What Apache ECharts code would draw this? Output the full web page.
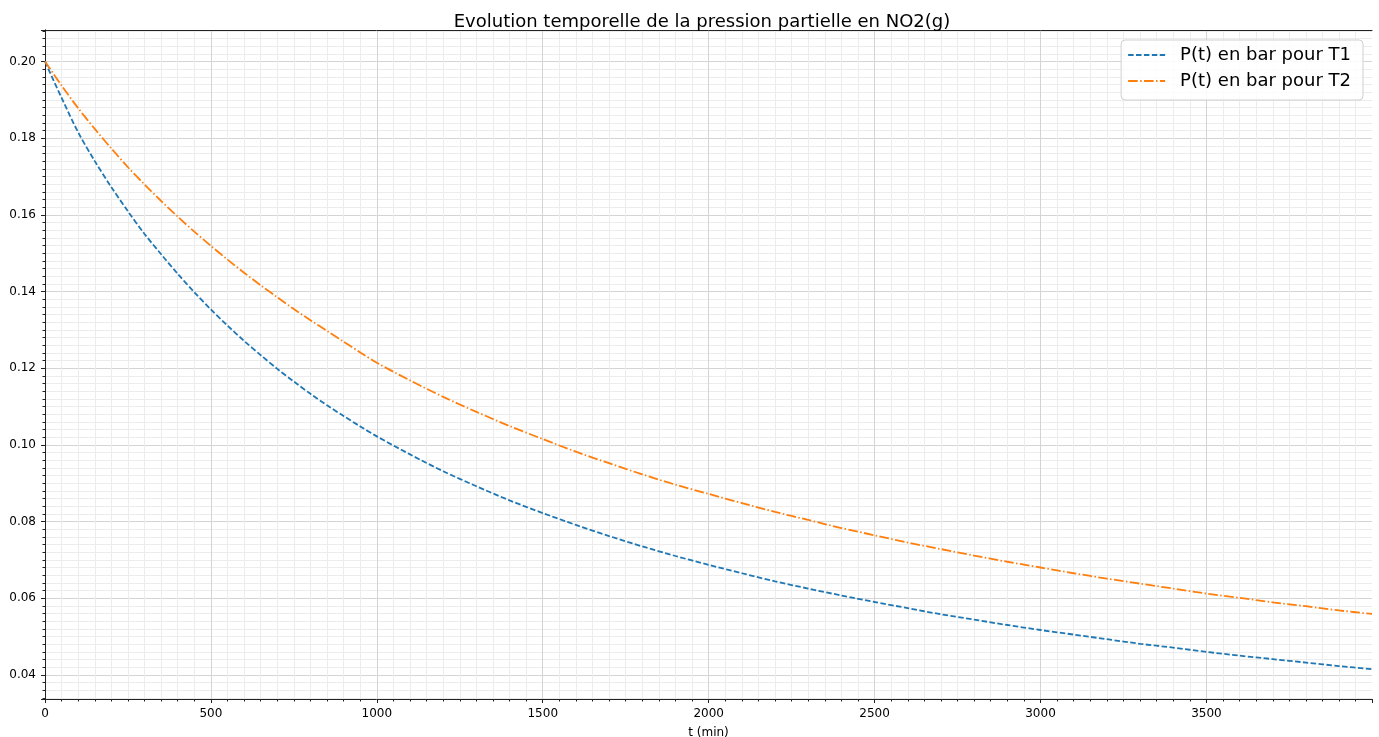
<!DOCTYPE html>
<html>
<head>
<meta charset="utf-8">
<script src="https://cdn.jsdelivr.net/npm/echarts@6/dist/echarts.min.js"></script>
<style>
  html, body { margin: 0; padding: 0; background: #fff; }
  #chart { width: 1379px; height: 737px; }
</style>
</head>
<body>
<div id="chart"></div>
<script>
// temps (min)
const tMin = [0, 50, 100, 150, 200, 250, 300, 350, 400, 450, 500, 550, 600, 650, 700, 750, 800, 850, 900, 950,
  1000, 1100, 1200, 1300, 1400, 1500, 1600, 1700, 1800, 1900, 2000, 2100, 2200, 2300, 2400, 2500,
  2600, 2700, 2800, 2900, 3000, 3100, 3200, 3300, 3400, 3500, 3600, 3700, 3800, 3900, 3999]

// P(t) en bar pour T1
const pT1 = [0.2000, 0.1905, 0.1815, 0.1740, 0.1672, 0.1609, 0.1550, 0.1497, 0.1446, 0.1398, 0.1353, 0.1311,
  0.1271, 0.1234, 0.1198, 0.1165, 0.1133, 0.1103, 0.1075, 0.1048,
  0.1022, 0.0975, 0.0931, 0.0892, 0.0855, 0.0822, 0.0791, 0.0762, 0.0735, 0.0710, 0.0687, 0.0665, 0.0644,
  0.0625, 0.0607, 0.0590, 0.0574, 0.0558, 0.0544, 0.0530, 0.0517, 0.0505, 0.0493, 0.0481, 0.0471, 0.0460,
  0.0450, 0.0441, 0.0432, 0.0423, 0.0415]

// P(t) en bar pour T2
const pT2 = [0.2000, 0.1937, 0.1878, 0.1824, 0.1773, 0.1724, 0.1679, 0.1636, 0.1595, 0.1556, 0.1519, 0.1483,
  0.1449, 0.1416, 0.1385, 0.1354, 0.1325, 0.1297, 0.1269, 0.1241,
  0.1214, 0.1168, 0.1125, 0.1086, 0.1049, 0.1015, 0.0982, 0.0952, 0.0923, 0.0896, 0.0872, 0.0848, 0.0825,
  0.0804, 0.0783, 0.0764, 0.0745, 0.0728, 0.0711, 0.0695, 0.0680, 0.0665, 0.0651, 0.0638, 0.0625, 0.0612,
  0.0601, 0.0589, 0.0579, 0.0568, 0.0559]

const seriesNames = ['P(t) en bar pour T1', 'P(t) en bar pour T2']
const font = 'DejaVu Sans'
const tRange = [0, 3999]
const pRange = [0.0337, 0.2082]

// axes du cadre (haut / droite), juste la ligne
const frameAxis = {
  type: 'value',
  axisLine: { show: true, lineStyle: { color: '#222', width: 1 } },
  axisTick: { show: false },
  minorTick: { show: false },
  axisLabel: { show: false },
  splitLine: { show: false },
  minorSplitLine: { show: false }
}

var myChart = echarts.init(document.getElementById('chart'))
myChart.setOption({
  backgroundColor: '#fff',
  animation: false,
  title: {
    text: 'Evolution temporelle de la pression partielle en NO2(g)',
    left: 697,
    textAlign: 'center',
    top: 8,
    textStyle: { fontFamily: font, fontSize: 18, fontWeight: 'normal', color: '#000' }
  },
  legend: {
    data: seriesNames,
    orient: 'vertical',
    right: 16,
    top: 40,
    padding: [6, 12, 10, 6],
    itemGap: 8,
    itemWidth: 37,
    itemHeight: 14,
    itemStyle: { opacity: 0, borderWidth: 0 },
    backgroundColor: 'rgba(255,255,255,0.85)',
    borderColor: '#d0d0d0',
    borderWidth: 1,
    borderRadius: 4,
    textStyle: { fontFamily: font, fontSize: 18, color: '#000', padding: [0, 0, 0, 10] }
  },
  grid: {
    left: 45,
    right: 7,
    top: 30,
    bottom: 38,
    containLabel: false,
    outerBoundsMode: 'none'
  },
  xAxis: [
    {
      type: 'value',
      min: tRange[0],
      max: tRange[1],
      interval: 500,
      name: 't (min)',
      nameLocation: 'middle',
      nameGap: 28,
      nameTextStyle: { fontFamily: font, fontSize: 12, color: '#000' },
      axisLine: { lineStyle: { color: '#222', width: 1 } },
      axisTick: { length: 4, lineStyle: { color: '#222' } },
      minorTick: { show: true, splitNumber: 10, length: 2.5, lineStyle: { color: '#222' } },
      axisLabel: {
        fontFamily: font, fontSize: 12, color: '#000', margin: 9, showMaxLabel: false,
        formatter: function (v) { return String(v) }
      },
      splitLine: { show: true, showMinLine: false, showMaxLine: false, lineStyle: { color: '#d4d4d4', width: 1 } },
      minorSplitLine: { show: true, lineStyle: { color: '#ececec', width: 1 } }
    },
    Object.assign({ position: 'top', min: tRange[0], max: tRange[1] }, frameAxis)
  ],
  yAxis: [
    {
      type: 'value',
      min: pRange[0],
      max: pRange[1],
      splitNumber: 9,
      minInterval: 0.02,
      maxInterval: 0.02,
      axisLine: { show: true, lineStyle: { color: '#222', width: 1 } },
      axisTick: { show: true, length: 4, lineStyle: { color: '#222' } },
      minorTick: { show: true, splitNumber: 10, length: 2.5, lineStyle: { color: '#222' } },
      axisLabel: {
        fontFamily: font, fontSize: 12, color: '#000', margin: 9,
        showMinLabel: false, showMaxLabel: false,
        formatter: function (v) { return v.toFixed(2) }
      },
      splitLine: { show: true, showMinLine: false, showMaxLine: false, lineStyle: { color: '#d4d4d4', width: 1 } },
      minorSplitLine: { show: true, lineStyle: { color: '#ececec', width: 1 } }
    },
    Object.assign({ position: 'right', min: pRange[0], max: pRange[1] }, frameAxis)
  ],
  series: [
    {
      name: seriesNames[0],
      type: 'line',
      symbol: 'none',
      smooth: 0.3,
      data: tMin.map((t, i) => [t, pT1[i]]),
      itemStyle: { color: '#1f77b4' },
      lineStyle: { color: '#1f77b4', width: 1.8, type: [5.5, 2.4] }
    },
    {
      name: seriesNames[1],
      type: 'line',
      symbol: 'none',
      smooth: 0.3,
      data: tMin.map((t, i) => [t, pT2[i]]),
      itemStyle: { color: '#ff7f0e' },
      lineStyle: { color: '#ff7f0e', width: 1.8, type: [9.6, 2.4, 1.5, 2.4] }
    }
  ]
})
</script>
</body>
</html>
